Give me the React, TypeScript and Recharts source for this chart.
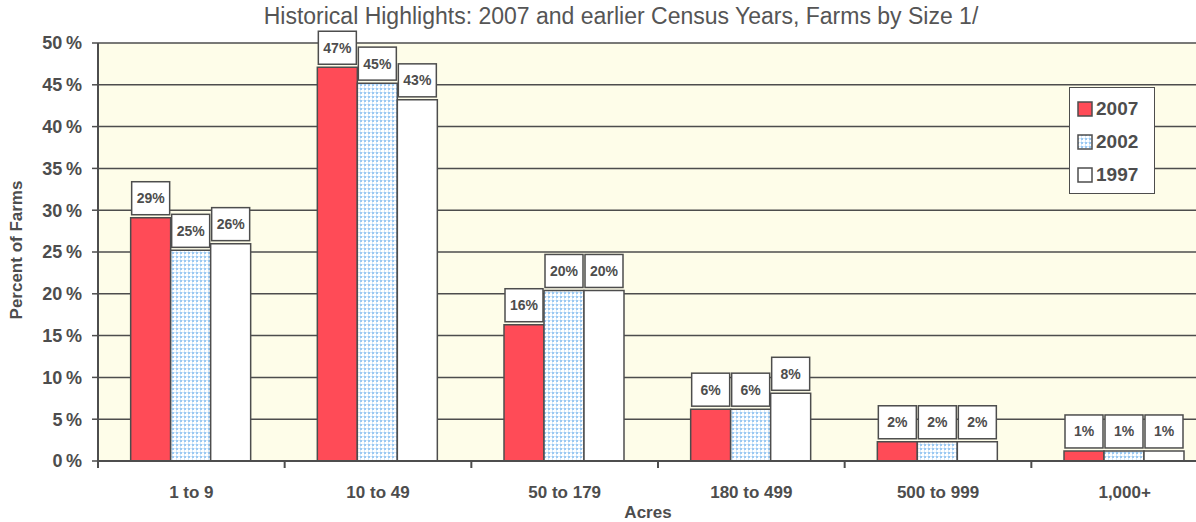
import { BarChart, Bar, XAxis, YAxis, CartesianGrid } from "recharts";

const CATEGORIES = ["1 to 9", "10 to 49", "50 to 179", "180 to 499", "500 to 999", "1,000+"];
const Y2007 = [29.1, 47.1, 16.3, 6.2, 2.3, 1.2];
const Y2002 = [25.2, 45.2, 20.4, 6.2, 2.3, 1.2];
const Y1997 = [26.0, 43.2, 20.4, 8.1, 2.3, 1.2];
const Y_TICKS = [0, 5, 10, 15, 20, 25, 30, 35, 40, 45, 50];

const SERIES = [
  { key: "y2007", name: "2007", fill: "#FF4B57" },
  { key: "y2002", name: "2002", fill: "url(#dots2002)" },
  { key: "y1997", name: "1997", fill: "#FFFFFF" },
];

const INK = "#4d4d4d";
const FONT = "'Liberation Sans', Arial, sans-serif";

const CHART_W = 1230;
const CHART_H = 522;
const MARGIN = { top: 43, right: 12, bottom: 0, left: 0 };
const Y_AXIS_W = 98;
const BAND = (CHART_W - MARGIN.left - MARGIN.right - Y_AXIS_W) / CATEGORIES.length;

const data = CATEGORIES.map((c, i) => ({
  cat: c,
  y2007: Y2007[i],
  y2002: Y2002[i],
  y1997: Y1997[i],
}));

function ValueBox(props: any) {
  const { x, y, width, value } = props;
  const w = Math.min(width - 2, 40);
  const h = 33;
  const cx = x + width / 2;
  return (
    <g>
      <rect x={cx - w / 2} y={y - h - 3} width={w} height={h} fill="#fff" stroke={INK} strokeWidth={1.5} />
      <text x={cx} y={y - 3 - h / 2 + 5} textAnchor="middle" fontFamily={FONT} fontWeight="bold" fontSize={14} fill={INK}>
        {`${Math.round(value)}%`}
      </text>
    </g>
  );
}

function CatTick(props: any) {
  const { x, y, payload } = props;
  return (
    <g>
      <line x1={x - BAND / 2} x2={x - BAND / 2} y1={y} y2={y + 7} stroke={INK} strokeWidth={2} />
      <text x={x} y={y + 37} textAnchor="middle" fontFamily={FONT} fontWeight="bold" fontSize={17} fill={INK}>
        {payload.value}
      </text>
    </g>
  );
}

function LegendBox() {
  return (
    <div style={{ position: "absolute", left: 1069, top: 87, border: `1.5px solid ${INK}`, background: "#fff", width: 86, padding: "4px 0 2px 0", boxSizing: "border-box" }}>
      {SERIES.map((s) => (
        <div key={s.key} style={{ display: "flex", alignItems: "center", height: 33, paddingLeft: 7 }}>
          <svg width={16} height={16} style={{ marginRight: 3 }}>
            <rect x={1} y={1} width={14} height={14} fill={s.fill} stroke={INK} strokeWidth={1.5} />
          </svg>
          <span style={{ fontFamily: FONT, fontWeight: "bold", fontSize: 19, color: INK }}>{s.name}</span>
        </div>
      ))}
    </div>
  );
}

export default function App() {
  return (
    <div style={{ position: "fixed", left: 0, top: 0, width: 1196, height: 522, overflow: "hidden", background: "#fff" }}>
      <BarChart width={CHART_W} height={CHART_H} data={data} margin={MARGIN} barCategoryGap="17.5%" barGap={0}>
        <defs>
          <pattern id="dots2002" width={4} height={4} patternUnits="userSpaceOnUse">
            <rect width={4} height={4} fill="#fff" />
            <rect width={2} height={2} fill="#9cc9f2" />
            <rect x={2} y={0} width={2} height={1} fill="#d6eafb" />
            <rect x={0} y={2} width={1} height={2} fill="#d6eafb" />
          </pattern>
        </defs>
        <CartesianGrid vertical={false} fill="#FEFDE9" stroke={INK} strokeWidth={1.5} />
        <XAxis
          dataKey="cat"
          axisLine={{ stroke: INK, strokeWidth: 2 }}
          tickLine={false}
          tickSize={0}
          tickMargin={0}
          height={61}
          interval={0}
          tick={<CatTick />}
        />
        <YAxis
          domain={[0, 50]}
          ticks={Y_TICKS}
          width={Y_AXIS_W}
          allowDataOverflow
          axisLine={{ stroke: INK, strokeWidth: 2 }}
          tickLine={{ stroke: INK, strokeWidth: 1.5 }}
          tickSize={6}
          tickMargin={10}
          tickFormatter={(v: number) => `${v}\u2009%`}
          tick={{ fill: INK, fontSize: 18, fontWeight: "bold", fontFamily: FONT }}
        />
        {SERIES.map((s) => (
          <Bar
            key={s.key}
            dataKey={s.key}
            name={s.name}
            fill={s.fill}
            stroke={INK}
            strokeWidth={1.5}
            isAnimationActive={false}
            label={<ValueBox />}
          />
        ))}
      </BarChart>
      <LegendBox />
      <div style={{ position: "absolute", left: 0, width: 1242, top: 3, textAlign: "center", fontFamily: FONT, fontSize: 23, color: "#555" }}>
        Historical Highlights: 2007 and earlier Census Years, Farms by Size 1/
      </div>
      <div style={{ position: "absolute", left: 17, top: 250, transform: "translate(-50%, -50%) rotate(-90deg)", whiteSpace: "nowrap", fontFamily: FONT, fontWeight: "bold", fontSize: 17, color: INK }}>
        Percent of Farms
      </div>
      <div style={{ position: "absolute", left: 648, top: 513, transform: "translate(-50%, -50%)", fontFamily: FONT, fontWeight: "bold", fontSize: 17, color: INK }}>
        Acres
      </div>
    </div>
  );
}
